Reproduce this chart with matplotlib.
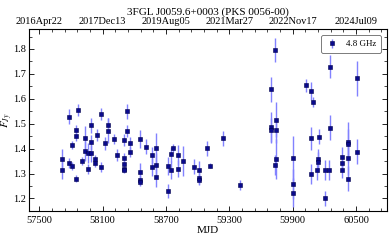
import numpy as np
import matplotlib
matplotlib.use("Agg")
import matplotlib.pyplot as plt
from matplotlib.ticker import FixedLocator, MultipleLocator

plt.rcParams["font.family"] = ["Liberation Serif", "DejaVu Serif"]
plt.rcParams["mathtext.fontset"] = "stix"

# 4.8 GHz light curve
mjd = [57715, 57715, 57778, 57778, 57813, 57813, 57844, 57844, 57844, 57872,
       57901, 57933, 57933, 57964, 57964, 57993, 57993, 57993, 58024, 58024,
       58050, 58085, 58085, 58119, 58147, 58147, 58208, 58236, 58299, 58299,
       58299, 58299, 58302, 58331, 58331, 58360, 58360, 58451, 58451, 58451,
       58451, 58511, 58571, 58571, 58602, 58602, 58602, 58720, 58720, 58751,
       58751, 58767, 58818, 58818, 58865, 58963, 59010, 59012, 59015, 59092,
       59114, 59241, 59405, 59699, 59699, 59699, 59734, 59734, 59742, 59742,
       59742, 59908, 59908, 59908, 60031, 60072, 60072, 60072, 60088, 60126,
       60140, 60140, 60145, 60211, 60211, 60243, 60252, 60258, 60365, 60365,
       60365, 60422, 60422, 60422, 60422, 60505, 60505]
flux = [1.357, 1.314, 1.528, 1.341, 1.414, 1.330, 1.474, 1.452, 1.280, 1.555,
        1.351, 1.441, 1.390, 1.381, 1.320, 1.493, 1.425, 1.381, 1.359, 1.343,
        1.454, 1.538, 1.327, 1.421, 1.494, 1.472, 1.439, 1.374, 1.434, 1.361,
        1.338, 1.320, 1.316, 1.550, 1.470, 1.421, 1.385, 1.439, 1.307, 1.276,
        1.267, 1.407, 1.373, 1.327, 1.401, 1.334, 1.287, 1.230, 1.330, 1.378,
        1.314, 1.403, 1.374, 1.320, 1.351, 1.327, 1.316, 1.283, 1.276, 1.402,
        1.331, 1.441, 1.255, 1.638, 1.488, 1.474, 1.796, 1.335, 1.517, 1.474,
        1.357, 1.361, 1.257, 1.224, 1.654, 1.631, 1.441, 1.300, 1.586, 1.316,
        1.357, 1.346, 1.447, 1.316, 1.200, 1.316, 1.484, 1.729, 1.367, 1.341,
        1.314, 1.427, 1.417, 1.363, 1.279, 1.682, 1.387]
ferr = [0.040, 0.035, 0.030, 0.020, 0.015, 0.015, 0.020, 0.020, 0.015, 0.025,
        0.015, 0.050, 0.040, 0.040, 0.020, 0.030, 0.030, 0.035, 0.015, 0.015,
        0.025, 0.025, 0.020, 0.025, 0.030, 0.050, 0.020, 0.025, 0.025, 0.020,
        0.015, 0.015, 0.015, 0.030, 0.025, 0.025, 0.020, 0.035, 0.035, 0.020,
        0.015, 0.030, 0.035, 0.035, 0.060, 0.050, 0.040, 0.030, 0.035, 0.030,
        0.035, 0.015, 0.040, 0.035, 0.060, 0.030, 0.035, 0.025, 0.020, 0.030,
        0.010, 0.030, 0.020, 0.050, 0.060, 0.050, 0.050, 0.040, 0.070, 0.050,
        0.080, 0.090, 0.060, 0.060, 0.025, 0.035, 0.045, 0.040, 0.020, 0.040,
        0.040, 0.040, 0.030, 0.040, 0.030, 0.040, 0.050, 0.045, 0.040, 0.030,
        0.030, 0.080, 0.060, 0.070, 0.050, 0.070, 0.050]

major_mjd = [57500, 58100, 58700, 59300, 59900, 60500]
date_labels = ["2016Apr22", "2017Dec13", "2019Aug05", "2021Mar27", "2022Nov17", "2024Jul09"]

fig = plt.figure(figsize=(3.89, 2.40), dpi=100)
ax = fig.add_axes([0.075, 0.121, 0.920, 0.758])

ax.errorbar(mjd, flux, yerr=ferr, fmt="s", ms=2.2, mfc="#0a0a8c", mec="#00004a",
            mew=0.4, ecolor="#8282ff", elinewidth=1.0, capsize=0,
            label="4.8 GHz")

ax.set_xlim(57405, 60794)
ax.set_ylim(1.15, 1.88)
ax.xaxis.set_major_locator(FixedLocator(major_mjd))
ax.xaxis.set_minor_locator(FixedLocator(np.arange(57380, 60800, 120)))
ax.yaxis.set_major_locator(MultipleLocator(0.1))
ax.yaxis.set_minor_locator(MultipleLocator(0.05))
ax.tick_params(which="both", direction="in", right=True, labelsize=7.5)
ax.tick_params(which="major", length=3.5, width=0.6)
ax.tick_params(which="minor", length=2, width=0.5)
ax.tick_params(axis="y", pad=2)
ax.set_xlabel("MJD", fontsize=8, labelpad=1)
ylab = ax.set_ylabel(r"$F_{Jy}$", fontsize=8)
ylab.set_va("center")
ax.yaxis.set_label_coords(-0.061, 0.5)
for s in ax.spines.values():
    s.set_linewidth(0.6)

top = ax.twiny()
top.set_xlim(ax.get_xlim())
top.xaxis.set_major_locator(FixedLocator(major_mjd))
top.xaxis.set_minor_locator(FixedLocator(np.arange(57380, 60800, 120)))
top.set_xticklabels(date_labels)
top.tick_params(which="both", direction="in", labelsize=7.5, pad=2)
top.tick_params(which="major", length=3.5, width=0.6)
top.tick_params(which="minor", length=2, width=0.5)
top.set_title("3FGL J0059.6+0003 (PKS 0056-00)", fontsize=8, pad=2)

leg = ax.legend(loc="upper right", fontsize=6.5, fancybox=True, framealpha=1,
                edgecolor="0.4", handlelength=1.5, borderpad=0.5,
                bbox_to_anchor=(0.995, 0.99))
leg.get_frame().set_linewidth(0.6)

fig.savefig("out.png", dpi=100)
